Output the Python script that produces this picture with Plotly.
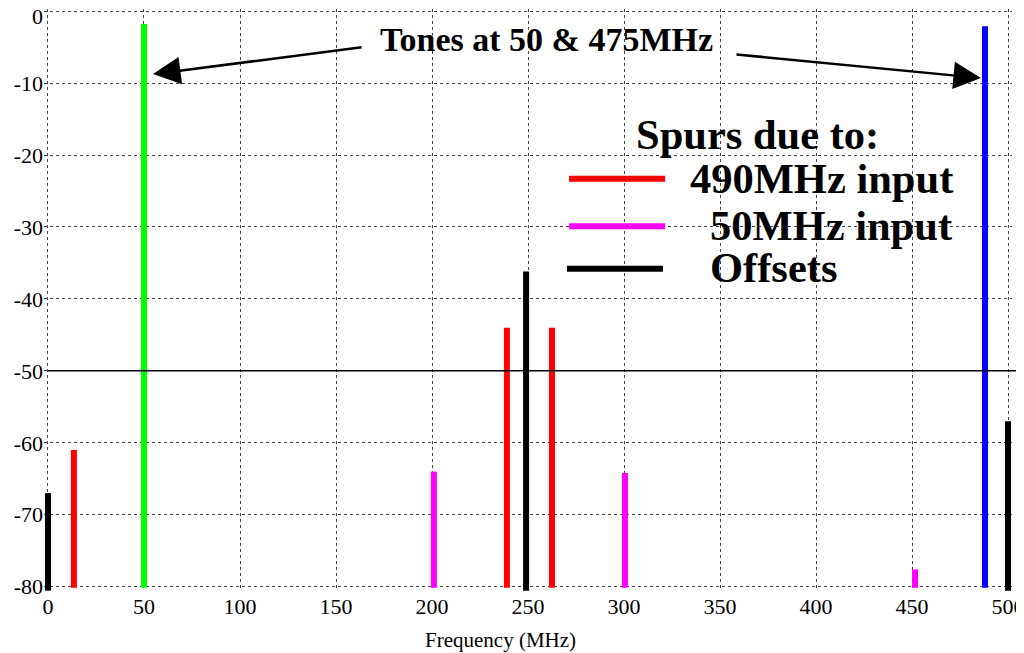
import plotly.graph_objects as go

# ---- data ----
tone_freqs = [50, 488]
tone_levels = [-1.8, -2.1]
tone_colors = ["#00ff00", "#0000ff"]

spur490_freqs = [13.5, 239, 262.5]
spur490_levels = [-61, -44, -44]

spur50_freqs = [201, 300.5, 451.6]
spur50_levels = [-64, -64.2, -77.6]

offset_freqs = [0, 249, 500]
offset_levels = [-67, -36.2, -57]

legend_labels = ["490MHz input", "50MHz input", "Offsets"]
legend_colors = ["#ff0000", "#ff00ff", "#000000"]

x_ticks = [0, 50, 100, 150, 200, 250, 300, 350, 400, 450, 500]
y_ticks = [0, -10, -20, -30, -40, -50, -60, -70, -80]
ref_level = -50
baseline = -80.15
black_baseline = -80.55
FONT = "Liberation Serif, Times New Roman, serif"

X_RANGE = [-2.08, 502.08]
Y_RANGE = [-80.6, 0.3]

fig = go.Figure()

def add_bars(freqs, levels, color, base, width=6, yaxis="y"):
    for f, v in zip(freqs, levels):
        fig.add_trace(go.Scatter(x=[f, f], y=[base, v], mode="lines", yaxis=yaxis,
                                 line=dict(color=color, width=width),
                                 showlegend=False, hoverinfo="skip"))

for f, v, c in zip(tone_freqs, tone_levels, tone_colors):
    add_bars([f], [v], c, baseline, width=6, yaxis="y2")
add_bars(spur490_freqs, spur490_levels, legend_colors[0], baseline)
add_bars(spur50_freqs, spur50_levels, legend_colors[1], baseline)
add_bars(offset_freqs, offset_levels, legend_colors[2], black_baseline)

# -50 reference line (extends a little past the plot area on the right)
ref_paper_y = (ref_level - Y_RANGE[0]) / (Y_RANGE[1] - Y_RANGE[0])
fig.add_shape(type="line", xref="paper", yref="paper", x0=0.0041, x1=1.0103,
              y0=ref_paper_y, y1=ref_paper_y,
              line=dict(color="black", width=1.5), layer="above")

# custom legend
leg_y = [-23.2, -29.8, -35.7]
leg_x0 = [271.4, 271.4, 270.3]
leg_text_x = [333.4, 343.8, 343.8]
for lab, col, yy, x0, tx in zip(legend_labels, legend_colors, leg_y, leg_x0, leg_text_x):
    fig.add_shape(type="line", xref="x", yref="y", x0=x0, x1=x0 + 50,
                  y0=yy - 0.1, y1=yy - 0.1, line=dict(color=col, width=6))
    fig.add_annotation(x=tx, y=yy, xref="x", yref="y", text="<b>" + lab + "</b>",
                       showarrow=False, xanchor="left", yanchor="middle",
                       font=dict(family=FONT, size=42.5, color="black"))
fig.add_annotation(x=369.3, y=-17.2, xref="x", yref="y", text="<b>Spurs due to:</b>",
                   showarrow=False, xanchor="center", yanchor="middle",
                   font=dict(family=FONT, size=42.5, color="black"))

# tones annotation
fig.add_annotation(x=259.4, y=-4.0, xref="x", yref="y", text="<b>Tones at 50 &amp; 475MHz</b>",
                   showarrow=False, xanchor="center", yanchor="middle",
                   font=dict(family=FONT, size=34, color="black"))
for tip, tail in [((54.7, -8.75), (164.1, -5.0)), ((485.9, -9.3), (357.8, -6.0))]:
    fig.add_annotation(x=tip[0], y=tip[1], ax=tail[0], ay=tail[1],
                       xref="x", yref="y", axref="x", ayref="y", text="",
                       showarrow=True, arrowhead=2, arrowwidth=2.5, arrowsize=2.2,
                       arrowcolor="black")

# axis title as annotation
fig.add_annotation(x=(500 - 44) / 968, y=-(632 - 583) / 582.0, xref="paper", yref="paper",
                   text="Frequency (MHz)", showarrow=False,
                   font=dict(family=FONT, size=21, color="black"),
                   xanchor="center", yanchor="middle")

grid = dict(showgrid=True, gridcolor="#444444", gridwidth=1, griddash="dot",
            zeroline=False, showline=False, ticks="", automargin=False,
            ticklabeloverflow="allow",
            tickfont=dict(family=FONT, size=22, color="black"))

fig.update_xaxes(range=X_RANGE, tickvals=x_ticks, ticktext=[str(t) for t in x_ticks], **grid)
# main y-axis: all grid lines, labels except the top one
fig.update_yaxes(range=Y_RANGE, tickvals=y_ticks,
                 ticktext=[("" if t == 0 else str(t)) for t in y_ticks], **grid)
# overlay y-axis: only the top "0" label, nudged down so it is not cut off
fig.update_layout(yaxis2=dict(overlaying="y", side="left", range=Y_RANGE,
                              tickvals=[y_ticks[0]], ticktext=[str(y_ticks[0])],
                              showgrid=False, zeroline=False, showline=False, ticks="",
                              automargin=False, ticklabelshift=5,
                              ticklabeloverflow="allow",
                              tickfont=dict(family=FONT, size=22, color="black")))

fig.update_layout(width=1016, height=645, margin=dict(l=36, r=12, t=1, b=62, autoexpand=False),
                  font=dict(family=FONT, color="black"),
                  paper_bgcolor="white", plot_bgcolor="white", showlegend=False)

fig.write_html("out.html")
